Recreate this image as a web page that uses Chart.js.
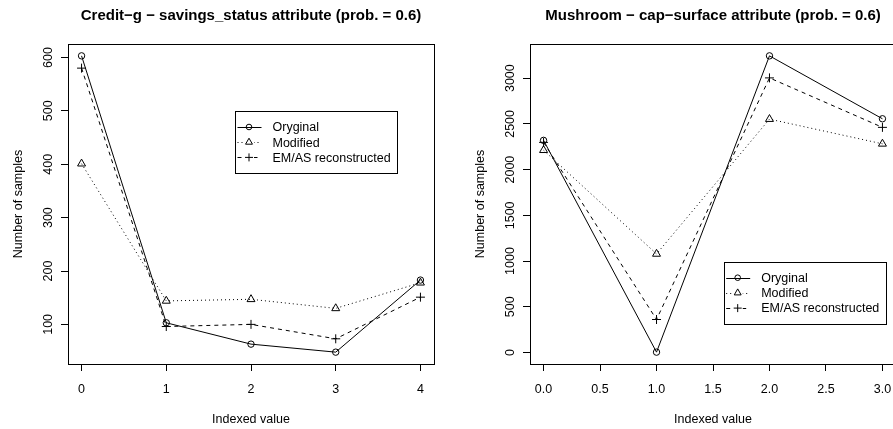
<!DOCTYPE html>
<html><head><meta charset="utf-8">
<script src="https://cdn.jsdelivr.net/npm/chart.js@4"></script>
<style>
html,body{margin:0;padding:0;background:#fff;overflow:hidden;}
#wrap{position:relative;width:924px;height:429px;overflow:hidden;}
canvas{position:absolute;top:0;}
</style></head><body>
<div id="wrap">
<canvas id="c1" width="462" height="429" style="left:0"></canvas>
<canvas id="c2" width="462" height="429" style="left:462px"></canvas>
</div>
<script>
// ---------- data ----------
const seriesNames = ['Oryginal', 'Modified', 'EM/AS reconstructed'];
const xAxisTitle = 'Indexed value';
const yAxisTitle = 'Number of samples';

const creditTitle = 'Credit\u2212g \u2212 savings_status attribute (prob. = 0.6)';
const creditIndex = [0, 1, 2, 3, 4];
const creditOriginal = [603, 103, 63, 48, 183];
const creditModified = [401, 144, 147, 130, 178];
const creditReconstructed = [580, 96, 100, 73, 151];
const creditXTicks = [0, 1, 2, 3, 4];
const creditXTickLabels = ['0', '1', '2', '3', '4'];
const creditYTicks = [100, 200, 300, 400, 500, 600];
const creditYTickLabels = ['100', '200', '300', '400', '500', '600'];

const mushTitle = 'Mushroom \u2212 cap\u2212surface attribute (prob. = 0.6)';
const mushIndex = [0, 1, 2, 3];
const mushOriginal = [2320, 4, 3244, 2556];
const mushModified = [2212, 1078, 2552, 2282];
const mushReconstructed = [2298, 361, 3003, 2462];
const mushXTicks = [0, 0.5, 1, 1.5, 2, 2.5, 3];
const mushXTickLabels = ['0.0', '0.5', '1.0', '1.5', '2.0', '2.5', '3.0'];
const mushYTicks = [0, 500, 1000, 1500, 2000, 2500, 3000];
const mushYTickLabels = ['0', '500', '1000', '1500', '2000', '2500', '3000'];

// ---------- helpers ----------
const FONT = '"Liberation Sans", Arial, Helvetica, sans-serif';
const styles = [
  { dash: [], pointStyle: 'circle', radius: 3.2, legRadius: 2.8 },
  { dash: [1, 3], pointStyle: 'triangle', radius: 4.6, legRadius: 4 },
  { dash: [4, 4], pointStyle: 'cross', radius: 4.5, legRadius: 4 }
];

function rRange(arrs) {
  const all = [].concat(...arrs);
  const lo = Math.min(...all), hi = Math.max(...all);
  const pad = 0.04 * (hi - lo);
  return [lo - pad, hi + pad];
}

function drawSym(ctx, style, x, y, r) {
  ctx.beginPath();
  if (style === 'circle') {
    ctx.arc(x, y, r, 0, Math.PI * 2);
  } else if (style === 'triangle') {
    const h = r * 1.5, w = r * Math.sqrt(3);
    ctx.moveTo(x, y - r);
    ctx.lineTo(x + w / 2, y - r + h);
    ctx.lineTo(x - w / 2, y - r + h);
    ctx.closePath();
  } else {
    ctx.moveTo(x - r, y); ctx.lineTo(x + r, y);
    ctx.moveTo(x, y - r); ctx.lineTo(x, y + r);
  }
  ctx.stroke();
}

const rPlugin = {
  id: 'rstyle',
  afterDraw(chart, args, o) {
    const ctx = chart.ctx, a = chart.chartArea;
    const xs = chart.scales.x, ys = chart.scales.y;
    ctx.save();
    ctx.strokeStyle = '#000'; ctx.lineWidth = 1; ctx.setLineDash([]);
    ctx.strokeRect(Math.round(a.left) + 0.5, Math.round(a.top) + 0.5,
                   Math.round(a.right - a.left), Math.round(a.bottom - a.top));
    ctx.fillStyle = '#000';
    ctx.font = '12.5px ' + FONT;
    ctx.textAlign = 'center'; ctx.textBaseline = 'alphabetic';
    xs.ticks.forEach((t, i) => ctx.fillText(o.xLabels[i], xs.getPixelForValue(t.value), 393));
    ys.ticks.forEach((t, i) => {
      ctx.save(); ctx.translate(52, ys.getPixelForValue(t.value)); ctx.rotate(-Math.PI / 2);
      ctx.fillText(o.yLabels[i], 0, 0); ctx.restore();
    });
    ctx.fillText(xAxisTitle, (a.left + a.right) / 2, 422.5);
    ctx.save(); ctx.translate(22, (a.top + a.bottom) / 2); ctx.rotate(-Math.PI / 2);
    ctx.fillText(yAxisTitle, 0, 0); ctx.restore();
    ctx.font = 'bold 15px ' + FONT;
    ctx.fillText(o.title, (a.left + a.right) / 2, 19.5);

    // legend
    ctx.font = '12.5px ' + FONT;
    ctx.textAlign = 'left';
    const lx = o.legX, ly = o.legY, rowH = 15.2;
    let tw = 0;
    chart.data.datasets.forEach(d => tw = Math.max(tw, ctx.measureText(d.label).width));
    const textX = lx + 37.5;
    const w = textX + tw + 6 - lx, h = rowH * 3 + 16.5;
    ctx.strokeRect(Math.round(lx) + 0.5, Math.round(ly) + 0.5, Math.round(w), Math.round(h));
    chart.data.datasets.forEach((d, i) => {
      const yy = ly + 16 + i * rowH;
      const st = styles[i];
      ctx.setLineDash(st.dash);
      ctx.beginPath(); ctx.moveTo(lx + 2.5, Math.round(yy) + 0.5); ctx.lineTo(lx + 26.5, Math.round(yy) + 0.5); ctx.stroke();
      ctx.setLineDash([]);
      if (i === 1) { ctx.fillStyle = '#fff'; ctx.fillRect(lx + 9, yy - 4, 10, 8); ctx.fillStyle = '#000'; }
      if (i === 2) { ctx.fillStyle = '#fff'; ctx.fillRect(lx + 9, yy - 4, 10, 8); ctx.fillStyle = '#000'; }
      drawSym(ctx, st.pointStyle, lx + 14, yy, st.legRadius);
      ctx.fillText(d.label, textX, yy + 4.3);
    });
    ctx.restore();
  }
};

function makeChart(id, idx, series, xTicks, xLabels, yTicks, yLabels, title, legX, legY) {
  const xr = rRange([idx]);
  const yr = rRange(series);
  const datasets = series.map((vals, i) => ({
    label: seriesNames[i],
    data: idx.map((x, k) => ({ x: x, y: vals[k] })),
    borderColor: '#000', borderWidth: 1, borderDash: styles[i].dash,
    pointStyle: styles[i].pointStyle, pointRadius: styles[i].radius,
    pointBorderColor: '#000', pointBackgroundColor: 'rgba(0,0,0,0)', pointBorderWidth: 1,
    tension: 0, fill: false, showLine: true
  }));
  const axisCommon = {
    type: 'linear',
    ticks: { display: false },
    grid: { display: true, drawOnChartArea: false, drawTicks: true, tickLength: 7, color: '#000', lineWidth: 1 },
    border: { display: false }
  };
  return new Chart(document.getElementById(id), {
    type: 'scatter',
    data: { datasets },
    options: {
      responsive: false, animation: false, devicePixelRatio: 1,
      layout: { padding: { top: 44, right: 28, left: 0, bottom: 0 } },
      plugins: { legend: { display: false }, tooltip: { enabled: false },
        rstyle: { title, xLabels, yLabels, legX, legY } },
      scales: {
        x: Object.assign({}, axisCommon, { position: 'bottom', min: xr[0], max: xr[1],
          afterBuildTicks: s => { s.ticks = xTicks.map(v => ({ value: v })); },
          afterFit: s => { s.height = 65; } }),
        y: Object.assign({}, axisCommon, { position: 'left', min: yr[0], max: yr[1],
          afterBuildTicks: s => { s.ticks = yTicks.map(v => ({ value: v })); },
          afterFit: s => { s.width = 68; } })
      }
    },
    plugins: [rPlugin]
  });
}

makeChart('c1', creditIndex, [creditOriginal, creditModified, creditReconstructed],
  creditXTicks, creditXTickLabels, creditYTicks, creditYTickLabels, creditTitle, 235, 111);
makeChart('c2', mushIndex, [mushOriginal, mushModified, mushReconstructed],
  mushXTicks, mushXTickLabels, mushYTicks, mushYTickLabels, mushTitle, 261.7, 261.7);
</script>
</body></html>
